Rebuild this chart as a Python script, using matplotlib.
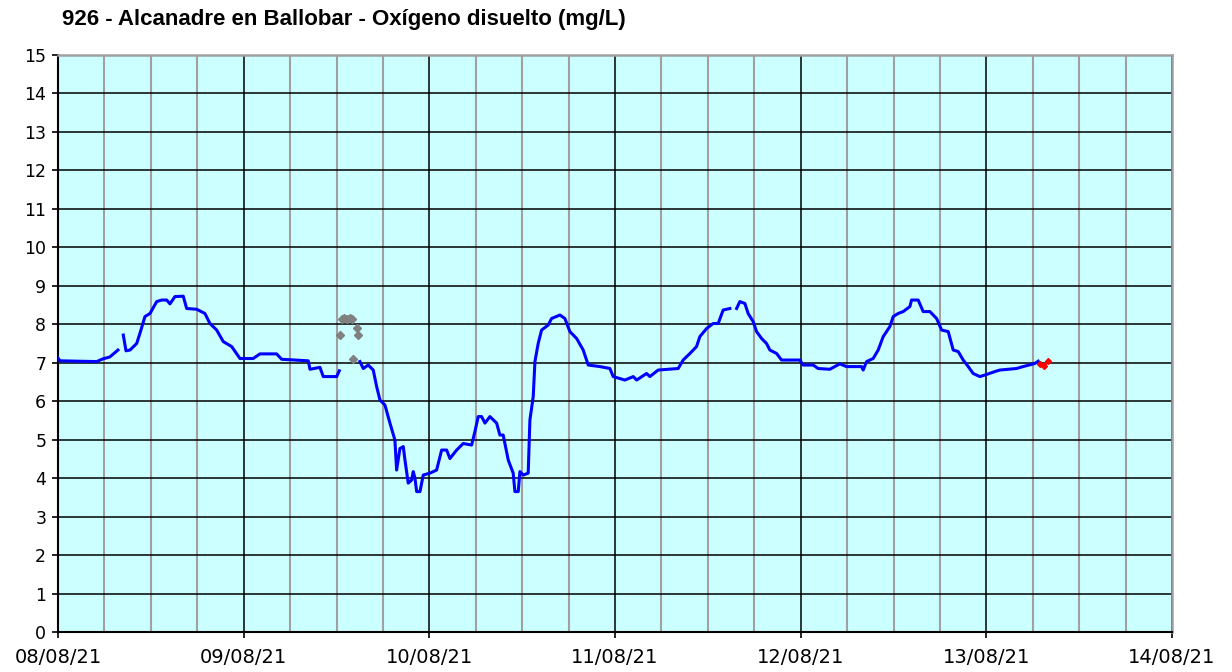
import numpy as np
import pandas as pd
import matplotlib
matplotlib.use("Agg")
import matplotlib.pyplot as plt
import matplotlib.dates as mdates

START = pd.Timestamp("2021-08-08")

# horas desde 08/08/21 00:00 y valores (mg/L); NaN = hueco en la serie
blue_hours = [0.0, 0.26, 5.0, 5.8, 6.7, 7.75, np.nan,
              8.44, 8.79, 9.31, 10.17, 10.6, 11.24, 11.89, 12.76, 13.4, 14.05, 14.47,
              15.12, 16.19, 16.63, 17.93, 18.99, 19.64, 20.51, 21.36, 22.45, 23.52,
              25.24, 26.1, 28.26, 28.91, 32.35, 32.57, 33.86, 34.29, 36.02, 36.36, np.nan,
              39.03, 39.46, 40.1, 40.75, 41.19, 41.62, 42.26, 42.91, 43.55, 43.77, 44.2,
              44.63, 44.85, 45.27, 45.71, 45.92, 46.14, 46.36, 46.79, 47.21, 48.08, 48.94,
              49.59, 50.24, 50.66, 51.53, 52.38, 53.47, 53.89, 54.32, 54.76, 55.19, 55.83,
              56.7, 57.12, 57.55, 58.2, 58.84, 59.06, 59.49, 59.71, 60.14, 60.78, 61.0,
              61.43, 61.65, 62.07, 62.51, 63.37, 63.8, 64.88, 65.52, 66.17, 67.04, 67.89,
              68.54, 70.05, 71.34, 71.77, 73.28, 74.36, 74.8, 76.08, 76.51, 77.58, 80.17,
              80.81, 81.68, 82.54, 82.97, 83.84, 84.69, 85.34, 85.98, 86.85, np.nan,
              87.72, 88.14, 88.79, 89.21, 89.86, 90.3, 90.95, 91.59, 92.02, 92.89, 93.53,
              95.9, 96.32, 97.61, 98.26, 99.77, 101.06, 101.93, 103.87, 104.08, 104.52,
              105.37, 106.02, 106.67, 107.53, 107.96, 108.6, 109.25, 110.12, 110.33,
              111.19, 111.84, 112.7, 113.57, 114.22, 115.07, 115.72, 116.37, 117.01,
              117.66, 118.3, 119.16, 119.81, 121.1, 121.75, 123.9, 124.75, 126.27, 126.7]
blue_values = [7.12, 7.05, 7.03, 7.1, 7.15, 7.33, np.nan,
               7.72, 7.31, 7.33, 7.5, 7.77, 8.2, 8.28, 8.59, 8.63, 8.63, 8.53,
               8.72, 8.73, 8.41, 8.39, 8.28, 8.02, 7.85, 7.55, 7.42, 7.11,
               7.11, 7.23, 7.23, 7.09, 7.05, 6.83, 6.88, 6.64, 6.64, 6.79, np.nan,
               7.03, 6.85, 6.94, 6.81, 6.38, 6.03, 5.9, 5.43, 4.99, 4.21, 4.77,
               4.82, 4.47, 3.87, 3.95, 4.17, 4.0, 3.65, 3.65, 4.08, 4.13, 4.21,
               4.73, 4.73, 4.51, 4.73, 4.9, 4.86, 5.21, 5.6, 5.6, 5.43, 5.6,
               5.43, 5.12, 5.12, 4.47, 4.13, 3.65, 3.65, 4.17, 4.08, 4.13, 5.51,
               6.12, 7.03, 7.5, 7.85, 7.98, 8.15, 8.24, 8.15, 7.81, 7.63, 7.33,
               6.94, 6.9, 6.85, 6.64, 6.55, 6.64, 6.55, 6.72, 6.64, 6.81, 6.85,
               7.07, 7.24, 7.42, 7.68, 7.89, 8.02, 8.02, 8.37, 8.41, np.nan,
               8.41, 8.59, 8.54, 8.28, 8.07, 7.81, 7.63, 7.5, 7.33, 7.24, 7.07,
               7.07, 6.94, 6.94, 6.85, 6.83, 6.97, 6.9, 6.9, 6.81, 7.03,
               7.11, 7.33, 7.68, 7.94, 8.2, 8.28, 8.33, 8.46, 8.63,
               8.63, 8.33, 8.33, 8.15, 7.85, 7.81, 7.33, 7.29, 7.07,
               6.9, 6.72, 6.64, 6.68, 6.77, 6.81, 6.85, 6.9, 6.98, 7.04]

# datos no validados (rombos grises)
gray_hours = [36.45, 36.7, 37.0, 37.3, 37.74, 37.96, 38.16, 38.6, 38.8]
gray_values = [7.72, 8.13, 8.15, 8.13, 8.15, 8.13, 7.09, 7.9, 7.72]

# ultimo dato (rojo)
red_hours = [126.9, 127.45, 127.99]
red_values = [6.98, 6.92, 7.05]

day_labels = ["08/08/21", "09/08/21", "10/08/21", "11/08/21",
              "12/08/21", "13/08/21", "14/08/21"]

# eje x en dias (numero de fecha de matplotlib)
x0 = mdates.date2num(START.to_pydatetime())


def to_x(hours):
    return x0 + np.asarray(hours, dtype=float) / 24.0


fig = plt.figure(figsize=(12.32, 6.72), dpi=100)
ax = fig.add_axes([58 / 1232, 40 / 672, 1114 / 1232, 577 / 672])
ax.set_facecolor("#CCFFFF")

ax.plot(to_x(blue_hours), blue_values, color="#0000FF", linewidth=2.2, zorder=3)
ax.plot(to_x(gray_hours), gray_values, linestyle="none", marker="D",
        markersize=4.5, color="#808080", zorder=3)
ax.plot(to_x(red_hours), red_values, color="#FF0000", linewidth=2,
        marker="D", markersize=3, zorder=4)

ax.set_xlim(x0, x0 + 6)
ax.set_ylim(0, 15)

ax.set_xticks([x0 + i for i in range(7)])
ax.set_xticklabels(day_labels)
ax.set_xticks([x0 + i / 4 for i in range(25) if i % 4 != 0], minor=True)
ax.set_yticks(range(16))

ax.grid(which="major", axis="both", color="black", linewidth=1.1, zorder=1)
ax.grid(which="minor", axis="x", color="#A0A0A0", linewidth=1.5, zorder=1)
ax.set_axisbelow(True)
ax.tick_params(axis="x", which="minor", length=0)
ax.tick_params(axis="both", which="major", length=4.5, width=1.2,
               colors="black", direction="out")
ax.tick_params(axis="x", labelsize=14, pad=7)
ax.tick_params(axis="y", labelsize=12.5, pad=4)

for side in ["top", "right"]:
    ax.spines[side].set_color("#A0A0A0")
    ax.spines[side].set_linewidth(1.8)
for side in ["left", "bottom"]:
    ax.spines[side].set_color("black")
    ax.spines[side].set_linewidth(1.5)

fig.text(62 / 1232, 1 - 19 / 672, "926 - Alcanadre en Ballobar - Oxígeno disuelto (mg/L)",
         fontfamily="Liberation Sans", fontweight="bold", fontsize=16,
         ha="left", va="center")

fig.savefig("out.png", dpi=100)
